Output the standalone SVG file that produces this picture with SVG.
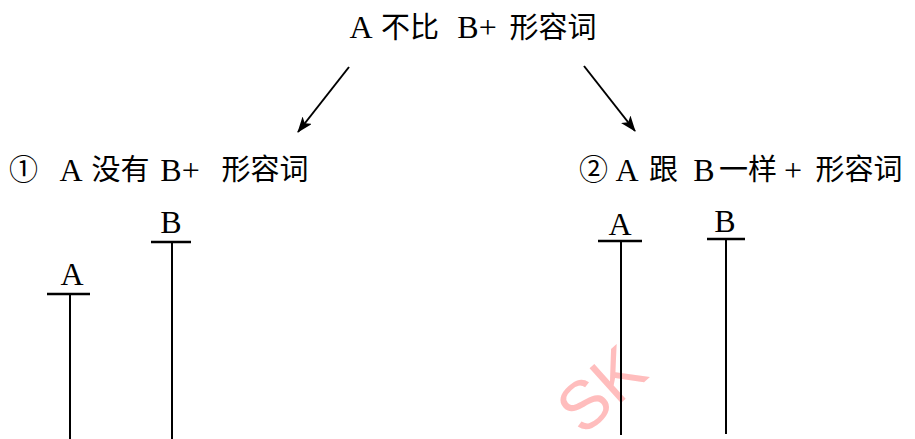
<svg xmlns="http://www.w3.org/2000/svg" width="915" height="439" viewBox="0 0 915 439">
<style>
.lat{font-family:"Liberation Serif","Noto Sans CJK SC",serif;font-size:32px;fill:#000;text-anchor:middle}
.cjk{font-family:"Noto Sans CJK SC","Liberation Serif",sans-serif;font-size:29px;fill:#000;text-anchor:middle}
.ln{stroke:#000;stroke-width:2;fill:none}
.bar{stroke:#000;stroke-width:2.5;fill:none}
.wm{font-family:"Liberation Sans",sans-serif;font-size:68px;fill:#ffbdbd}
</style>
<defs>
<marker id="ah" markerUnits="userSpaceOnUse" viewBox="0 0 16 12" refX="15" refY="6" markerWidth="16" markerHeight="12" orient="auto">
<path d="M0,0 L16,6 L0,12 L4,6 z" fill="#000"/>
</marker>
</defs>
<rect width="915" height="439" fill="#fff"/>
<g id="watermark">
<text class="wm" transform="translate(583,437) rotate(-42)" x="0" y="0">SK</text>
</g>
<g id="title">
<text class="lat" x="361" y="38">A</text>
<text class="cjk" x="410" y="38">不比</text>
<text class="lat" x="477" y="38">B+</text>
<text class="cjk" x="553" y="38">形容词</text>
</g>
<g id="case1">
<text class="cjk" x="23.5" y="180">①</text>
<text class="lat" x="71" y="181">A</text>
<text class="cjk" x="120.5" y="180">没有</text>
<text class="lat" x="180" y="181">B+</text>
<text class="cjk" x="265" y="180">形容词</text>
</g>
<g id="case2">
<text class="cjk" x="593.5" y="180">②</text>
<text class="lat" x="627" y="181">A</text>
<text class="cjk" x="663.5" y="180">跟</text>
<text class="lat" x="704" y="181">B</text>
<text class="cjk" x="748" y="180">一样</text>
<text class="lat" x="793" y="181">+</text>
<text class="cjk" x="859" y="180">形容词</text>
</g>
<g id="bar1A">
<text class="lat" x="72" y="285">A</text>
<line class="bar" x1="47" y1="294" x2="90" y2="294"/>
<line class="ln" x1="70" y1="294" x2="70" y2="439"/>
</g>
<g id="bar1B">
<text class="lat" x="171" y="233">B</text>
<line class="bar" x1="151" y1="242" x2="191" y2="242"/>
<line class="ln" x1="172" y1="242" x2="172" y2="439"/>
</g>
<g id="bar2A">
<text class="lat" x="620" y="235">A</text>
<line class="bar" x1="598" y1="241" x2="642" y2="241"/>
<line class="ln" x1="621" y1="241" x2="621" y2="435"/>
</g>
<g id="bar2B">
<text class="lat" x="725" y="232">B</text>
<line class="bar" x1="707" y1="239" x2="745" y2="239"/>
<line class="ln" x1="726" y1="239" x2="726" y2="434"/>
</g>
<g id="connectors">
<line class="ln" x1="349" y1="67" x2="298" y2="132" marker-end="url(#ah)"/>
<line class="ln" x1="584" y1="66" x2="635" y2="131" marker-end="url(#ah)"/>
</g>
</svg>
